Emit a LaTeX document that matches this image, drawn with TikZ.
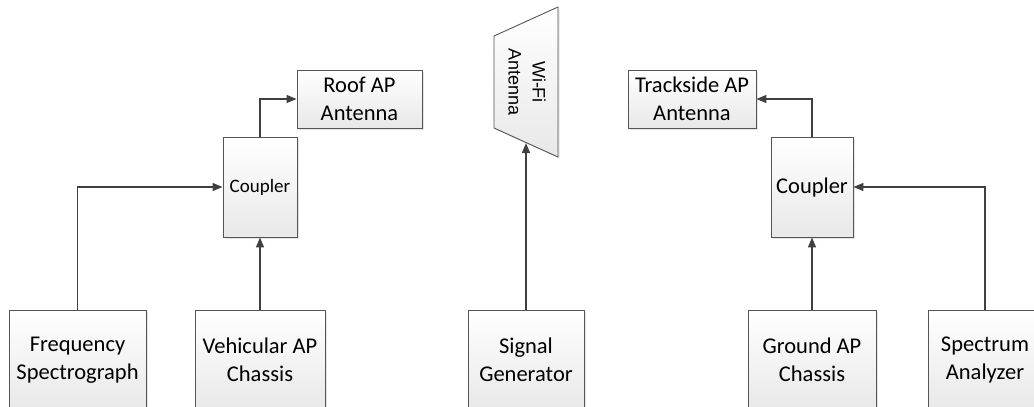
\documentclass[tikz,border=0pt]{standalone}
\usepackage{fontspec}
\setmainfont{Carlito}
\newfontfamily\wififont{Liberation Sans}
\usetikzlibrary{arrows.meta,shadows}
\definecolor{edgec}{HTML}{555555}
\definecolor{wirec}{HTML}{404040}
\begin{document}
\begin{tikzpicture}[x=1pt,y=-1pt,
  blk/.style={draw=edgec, line width=0.9pt, top color=white, bottom color=black!9,
    drop shadow={shadow xshift=1.5pt,shadow yshift=-1.5pt,opacity=0.3,fill=black!35},
    inner sep=0pt, align=center, font=\fontsize{22.5}{27.5}\selectfont},
  wire/.style={draw=wirec, line width=1.4pt, -{Triangle[length=10pt,width=8pt]}}]
\useasboundingbox (0,0) rectangle (1034,407);
% bottom row
\node[blk, minimum width=137pt, minimum height=100pt] (fs) at (77.5,360) {Frequency\\Spectrograph};
\node[blk, minimum width=130pt, minimum height=100pt] (vac) at (260,360) {Vehicular AP\\Chassis};
\node[blk, minimum width=116pt, minimum height=100pt] (sg) at (526,360) {Signal\\Generator};
\node[blk, minimum width=128pt, minimum height=100pt] (gac) at (812,360) {Ground AP\\Chassis};
\node[blk, minimum width=114pt, minimum height=100pt] (sa) at (985,360) {Spectrum\\Analyzer};
% couplers
\node[blk, minimum width=74pt, minimum height=100pt, font=\fontsize{19}{23}\selectfont] (lc) at (260,187) {Coupler};
\node[blk, minimum width=82pt, minimum height=100pt] (rc) at (812,187) {Coupler};
% antennas
\node[blk, minimum width=125pt, minimum height=58pt] (roof) at (359.5,99) {Roof AP\\Antenna};
\node[blk, minimum width=128pt, minimum height=58pt] (track) at (692,99) {Trackside AP\\Antenna};
% Wi-Fi antenna trapezoid
\path[draw=edgec, line width=0.9pt, top color=white, bottom color=black!9,
    drop shadow={shadow xshift=1.5pt,shadow yshift=-1.5pt,opacity=0.3,fill=black!35}]
  (494,36) -- (558,7) -- (558,157) -- (494,128) -- cycle;
\node[rotate=-90, align=center, inner sep=0pt, font=\wififont\fontsize{18}{24}\selectfont] (wifi) at (527,82) {Wi-Fi\\Antenna};
\coordinate (wifibot) at (526,143);
% connectors
\draw[wire] (fs.north) |- (lc.west);
\draw[wire] (vac.north) -- (lc.south);
\draw[wire] (lc.north) |- (roof.west);
\draw[wire] (sg.north) -- (wifibot);
\draw[wire] (gac.north) -- (rc.south);
\draw[wire] (sa.north) |- (rc.east);
\draw[wire] (rc.north) |- (track.east);
\end{tikzpicture}
\end{document}
